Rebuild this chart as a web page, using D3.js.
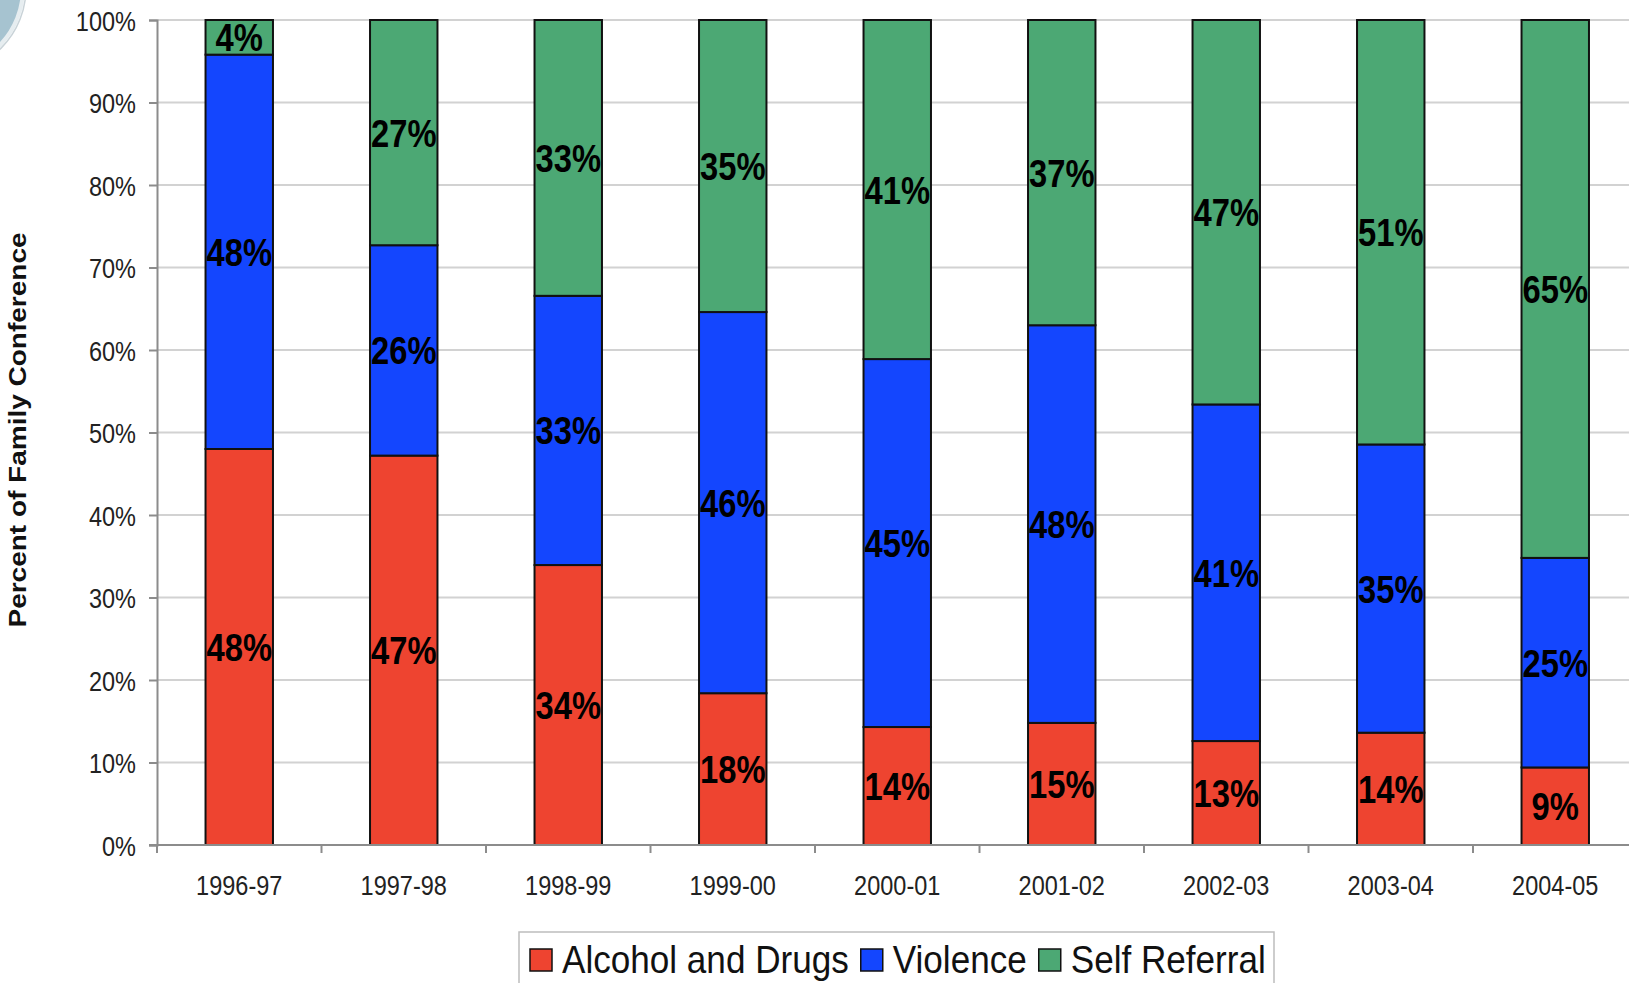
<!DOCTYPE html>
<html>
<head>
<meta charset="utf-8">
<script src="https://cdn.jsdelivr.net/npm/d3@7"></script>
<style>
  html, body { margin: 0; padding: 0; background: #fff; }
  svg { display: block; font-family: "Liberation Sans", Arial, sans-serif; }
</style>
</head>
<body>
<div id="chart"></div>
<script>
// values (percent of family conferences)
var categories   = ["1996-97", "1997-98", "1998-99", "1999-00", "2000-01", "2001-02", "2002-03", "2003-04", "2004-05"];
var alcohol      = [48.0, 47.2, 33.9, 18.4, 14.3, 14.8, 12.6, 13.6, 9.4];
var violence     = [47.8, 25.5, 32.6, 46.2, 44.6, 48.2, 40.8, 34.9, 25.4];
var selfReferral = [4.2, 27.3, 33.4, 35.4, 41.1, 37.0, 46.6, 51.4, 65.2];
var seriesNames  = ["Alcohol and Drugs", "Violence", "Self Referral"];
var seriesColors = ["#ee4430", "#1446fe", "#4ca874"];
var yTickValues  = [0, 10, 20, 30, 40, 50, 60, 70, 80, 90, 100];

var W = 1629, H = 983;
var plotLeft = 157, plotTop = 20, plotBottom = 845;
var step = 164.5;
var plotRight = plotLeft + step * categories.length;
var condense = 0.84;   // the text in the picture is squeezed horizontally

var svg = d3.select("#chart").append("svg").attr("width", W).attr("height", H);

// decoration in the top left corner
svg.append("circle").attr("cx", -59).attr("cy", -12).attr("r", 82)
  .style("fill", "#a6c3d0").style("stroke", "#e6edf0").style("stroke-width", 4);
svg.append("circle").attr("cx", -59).attr("cy", -12).attr("r", 85)
  .style("fill", "none").style("stroke", "#c9d3d8").style("stroke-width", 1.5);

var x = d3.scaleBand().domain(categories)
  .range([plotLeft, plotRight])
  .paddingInner(0.59).paddingOuter(0.295);

var y = d3.scaleLinear().domain([0, 100]).range([plotBottom, plotTop]);

// grid lines
svg.append("g").selectAll("line").data(yTickValues.filter(function(d){ return d > 0; }))
  .enter().append("line")
  .attr("x1", plotLeft).attr("x2", plotRight)
  .attr("y1", function(d){ return y(d); }).attr("y2", function(d){ return y(d); })
  .style("stroke", "#d2d2d2").style("stroke-width", 2);

// stacked data
var rows = categories.map(function(c, i){
  var r = { cat: c };
  r[seriesNames[0]] = alcohol[i];
  r[seriesNames[1]] = violence[i];
  r[seriesNames[2]] = selfReferral[i];
  return r;
});
var stacked = d3.stack().keys(seriesNames).offset(d3.stackOffsetExpand)(rows);

var layers = svg.append("g").selectAll("g").data(stacked).enter().append("g")
  .style("fill", function(d, i){ return seriesColors[i]; });

layers.selectAll("rect").data(function(d){ return d; }).enter().append("rect")
  .attr("x", function(d){ return x(d.data.cat); })
  .attr("width", x.bandwidth())
  .attr("y", function(d){ return y(d[1] * 100); })
  .attr("height", function(d){ return y(d[0] * 100) - y(d[1] * 100); })
  .style("stroke", "#111").style("stroke-width", 2);

// segment labels
layers.each(function(layer){
  d3.select(this).selectAll("text").data(layer).enter().append("text")
    .attr("transform", function(d){
      var cx = x(d.data.cat) + x.bandwidth() / 2;
      var cy = y((d[0] + d[1]) / 2 * 100) + 14;
      return "translate(" + cx + "," + cy + ") scale(" + condense + ",1)";
    })
    .attr("text-anchor", "middle")
    .style("font-size", "39px").style("font-weight", "bold").style("fill", "#000")
    .text(function(d){ return Math.round(d.data[layer.key]) + "%"; });
});

// y axis
var yAxis = svg.append("g").attr("transform", "translate(" + plotLeft + ",0)")
  .call(d3.axisLeft(y).tickValues(yTickValues).tickSize(8).tickPadding(0)
    .tickFormat(function(d){ return d + "%"; }));
yAxis.select(".domain").style("stroke", "#8c8c8c").style("stroke-width", 2);
yAxis.selectAll(".tick line").style("stroke", "#8c8c8c").style("stroke-width", 2);
yAxis.selectAll(".tick text")
  .attr("x", -21 / condense).attr("dy", "0.36em")
  .attr("transform", "scale(" + condense + ",1)")
  .style("font-size", "28px").style("fill", "#222").style("font-family", "Liberation Sans, Arial, sans-serif");

// x axis: labels at the bar centres, ticks at the category borders
var xAxis = svg.append("g").attr("transform", "translate(0," + plotBottom + ")")
  .call(d3.axisBottom(x).tickSize(0).tickPadding(0));
xAxis.select(".domain").remove();
xAxis.selectAll(".tick text")
  .attr("x", 0).attr("y", 50).attr("dy", "0")
  .attr("transform", "scale(" + condense + ",1)")
  .style("font-size", "28px").style("fill", "#222").style("font-family", "Liberation Sans, Arial, sans-serif");

var borders = categories.map(function(c){ return x(c) - x.step() * x.paddingInner() / 2; });
borders.push(plotRight);
svg.append("g").selectAll("line").data(borders).enter().append("line")
  .attr("x1", function(d){ return d; }).attr("x2", function(d){ return d; })
  .attr("y1", plotBottom).attr("y2", plotBottom + 8)
  .style("stroke", "#8c8c8c").style("stroke-width", 2);
svg.append("line").attr("x1", plotLeft - 8).attr("x2", plotRight)
  .attr("y1", plotBottom).attr("y2", plotBottom)
  .style("stroke", "#8c8c8c").style("stroke-width", 2);

// axis title
svg.append("text")
  .attr("transform", "translate(26,430) scale(" + condense + ",1) rotate(-90)")
  .attr("text-anchor", "middle")
  .style("font-size", "28px").style("font-weight", "bold").style("fill", "#111")
  .text("Percent of Family Conference");

// legend
var legend = svg.append("g");
legend.append("rect").attr("x", 519).attr("y", 932).attr("width", 755).attr("height", 90)
  .style("fill", "#fff").style("stroke", "#bdbdbd").style("stroke-width", 1.5);

var legendSqueeze = 0.9;
var lx = 530;
seriesNames.forEach(function(name, i){
  legend.append("rect").attr("x", lx).attr("y", 949).attr("width", 22).attr("height", 22)
    .style("fill", seriesColors[i]).style("stroke", "#111").style("stroke-width", 1.5);
  var t = legend.append("text")
    .attr("transform", "translate(" + (lx + 32) + ",973) scale(" + legendSqueeze + ",1)")
    .style("font-size", "39px").style("fill", "#111").text(name);
  lx = lx + 32 + t.node().getComputedTextLength() * legendSqueeze + 12;
});
</script>
</body>
</html>
